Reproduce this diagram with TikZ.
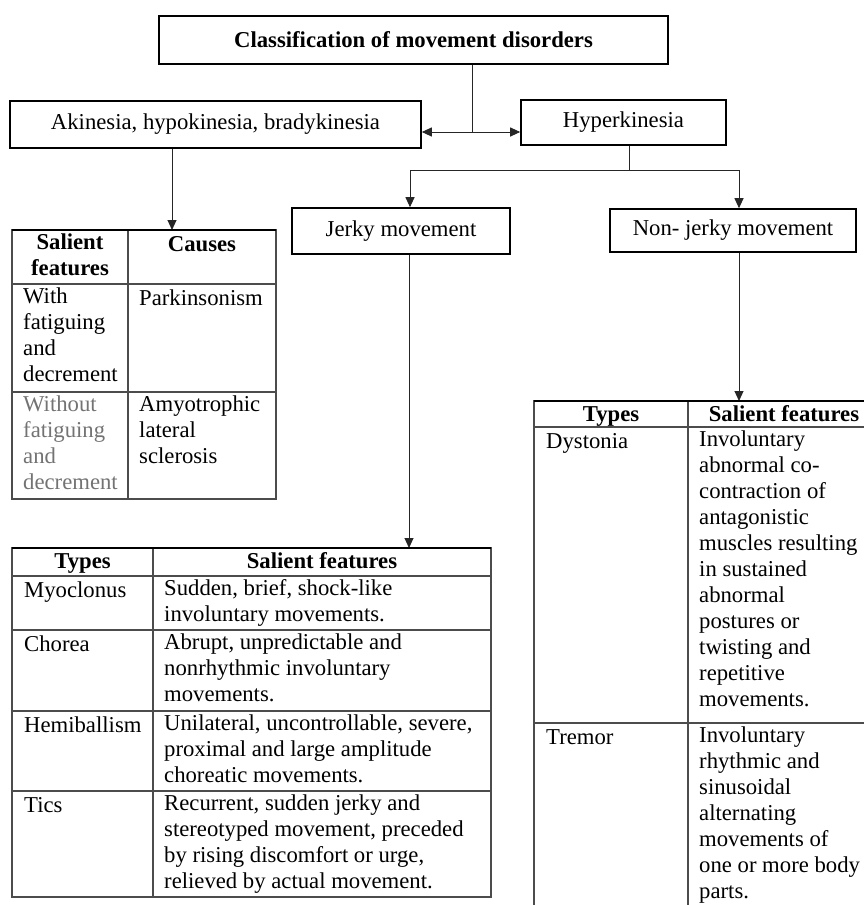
\documentclass[tikz,border=0pt]{standalone}
\usepackage{fontspec}
\setmainfont{Liberation Serif}
\usetikzlibrary{arrows.meta,positioning}

\begin{document}
\begin{tikzpicture}[
  x=1pt,y=-1pt,
  font=\fontsize{22.7}{26}\selectfont,
  box/.style={rectangle,draw,line width=1.6pt,inner sep=0pt,align=center},
  cell/.style={anchor=north west,inner sep=0pt,align=left,execute at begin node=\strut},
  head/.style={anchor=north,inner sep=0pt,align=center,font=\fontsize{22.7}{26}\selectfont\bfseries,execute at begin node=\strut},
  arrow/.style={-{Triangle[length=10pt,width=9pt]},line width=1pt,draw=black!85},
  link/.style={line width=1pt,draw=black!85},
  grid/.style={line width=1.2pt,draw=black!70},
  toprule/.style={line width=1.6pt,draw=black}
]
\useasboundingbox (0,0) rectangle (864,905);

% boxes
\node[box,font=\fontsize{22.7}{26}\selectfont\bfseries,minimum width=509pt,minimum height=48pt] (title) at (413.5,40) {Classification of movement disorders};
\node[box,minimum width=411pt,minimum height=47pt] (akin) at (215.5,124.5) {Akinesia, hypokinesia, bradykinesia};
\node[box,minimum width=205pt,minimum height=45pt] (hyper) at (623.5,122.5) {Hyperkinesia};
\node[box,minimum width=218pt,minimum height=46pt] (jerky) at (401,231) {Jerky movement};
\node[box,minimum width=246pt,minimum height=43pt] (nonjerky) at (733,230.5) {Non- jerky movement};

% connectors
\coordinate (split) at (472,132);
\coordinate (fork) at (629,170);
\coordinate (jdrop) at (410,170);
\coordinate (ndrop) at (739,170);
\coordinate (causetab) at (172,230);
\coordinate (jerktab) at (409,548);
\coordinate (nonjtab) at (739,401);
\draw[link] (title.south -| split) -- (split);
\draw[arrow] (split) -- (split -| akin.east);
\draw[arrow] (split) -- (split -| hyper.west);
\draw[link] (hyper.south -| fork) -- (fork);
\draw[link] (jdrop) -- (ndrop);
\draw[arrow] (jdrop) -- (jdrop |- jerky.north);
\draw[arrow] (ndrop) -- (ndrop |- nonjerky.north);
\draw[arrow] (akin.south -| causetab) -- (causetab);
\draw[arrow] (jerky.south -| jerktab) -- (jerktab);
\draw[arrow] (nonjerky.south -| nonjtab) -- (nonjtab);

% table of akinesia
\draw[grid] (12,230) rectangle (276,499);
\draw[grid] (128,230) -- (128,499);
\foreach \y in {284,392}
  \draw[grid] (12,\y) -- (276,\y);
\draw[toprule] (12,230) -- (276,230);
\node[head] (featA) at (70,233.5) {Salient\\features};
\node[head] (causeA) at (202,233.5) {Causes};
\node[cell] (withF) at (23,287.5) {With\\fatiguing\\and\\decrement};
\node[cell] (parkin) at (139,287.5) {Parkinsonism};
\node[cell,text=black!55] (withoutF) at (23,395.5) {Without\\fatiguing\\and\\decrement};
\node[cell] (als) at (139,395.5) {Amyotrophic\\lateral\\sclerosis};

% table of jerky movement
\draw[grid] (12,548) rectangle (491,897);
\draw[grid] (153,548) -- (153,897);
\foreach \y in {576,630,711,791}
  \draw[grid] (12,\y) -- (491,\y);
\draw[toprule] (12,548) -- (491,548);
\node[head] (typesB) at (82.5,549.8) {Types};
\node[head] (featB) at (322,549.8) {Salient features};
\node[cell] (myo) at (24,579.3) {Myoclonus};
\node[cell] (myoF) at (164,579.3) {Sudden, brief, shock-like\\involuntary movements.};
\node[cell] (chorea) at (24,633.3) {Chorea};
\node[cell] (choreaF) at (164,633.3) {Abrupt, unpredictable and\\nonrhythmic involuntary\\movements.};
\node[cell] (hemi) at (24,714.3) {Hemiballism};
\node[cell] (hemiF) at (164,714.3) {Unilateral, uncontrollable, severe,\\proximal and large amplitude\\choreatic movements.};
\node[cell] (tics) at (24,794.3) {Tics};
\node[cell] (ticsF) at (164,794.3) {Recurrent, sudden jerky and\\stereotyped movement, preceded\\by rising discomfort or urge,\\relieved by actual movement.};

% table of non-jerky movement
\draw[grid] (534,401) rectangle (880,915);
\draw[grid] (688,401) -- (688,915);
\draw[grid] (534,427) -- (880,427);
\draw[grid] (534,723) -- (880,723);
\draw[toprule] (534,401) -- (880,401);
\node[head] (typesC) at (611,402.8) {Types};
\node[head] (featC) at (784,402.8) {Salient features};
\node[cell] (dyst) at (546,430.3) {Dystonia};
\node[cell] (dystF) at (699,430.3) {Involuntary\\abnormal co-\\contraction of\\antagonistic\\muscles resulting\\in sustained\\abnormal\\postures or\\twisting and\\repetitive\\movements.};
\node[cell] (tremor) at (546,726.3) {Tremor};
\node[cell] (tremorF) at (699,726.3) {Involuntary\\rhythmic and\\sinusoidal\\alternating\\movements of\\one or more body\\parts.};
\end{tikzpicture}
\end{document}
